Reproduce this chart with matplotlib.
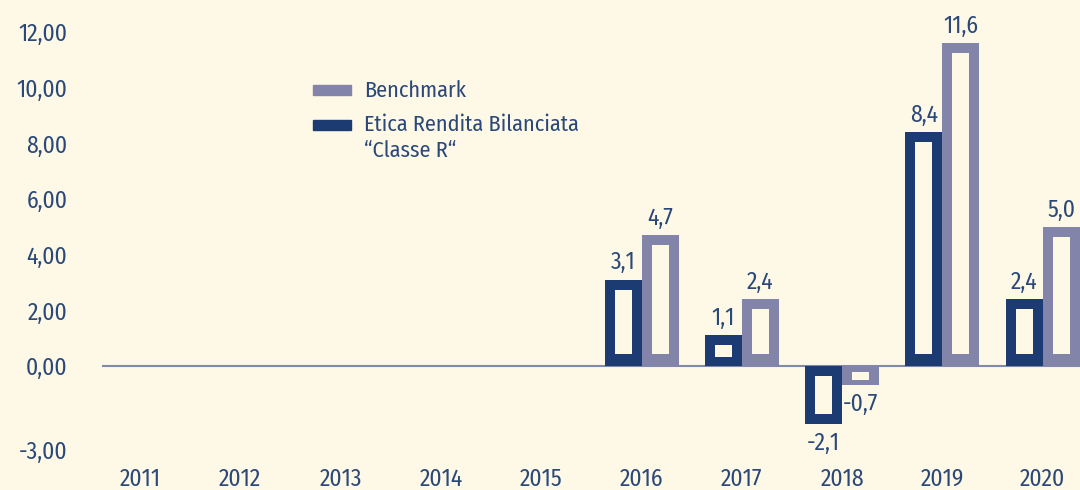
import numpy as np
import matplotlib.pyplot as plt
from matplotlib.patches import Rectangle

# dati
anni = ["2011", "2012", "2013", "2014", "2015", "2016", "2017", "2018", "2019", "2020"]
fondo = [np.nan, np.nan, np.nan, np.nan, np.nan, 3.1, 1.1, -2.1, 8.4, 2.4]
benchmark = [np.nan, np.nan, np.nan, np.nan, np.nan, 4.7, 2.4, -0.7, 11.6, 5.0]
y_ticks = [-3, 0, 2, 4, 6, 8, 10, 12]
nome_fondo = "Etica Rendita Bilanciata\n\u201cClasse R\u201c"
nome_bench = "Benchmark"

# stile
BG = "#FEF8E7"
C_FONDO = "#1B3B72"
C_BENCH = "#8284A9"
C_TEXT = "#2A4878"
C_LINE = "#7F8BA6"
FONT = ["Fira Sans Condensed", "Asap Condensed", "DejaVu Sans"]
plt.rcParams["font.family"] = FONT

W, H = 1080, 490
fig = plt.figure(figsize=(W / 100, H / 100), dpi=100, facecolor=BG)
ax = fig.add_axes([102 / W, 35 / H, (W - 102) / W, 455 / H])
ax.set_facecolor(BG)

px_x = 100.3   # pixel per unita' x
px_y = 27.83   # pixel per unita' y
ax.set_xlim(-38 / px_x, (W - 140) / px_x)
ax.set_ylim(-(455 - 366) / px_y, 366 / px_y)

x = np.arange(len(anni))
w = 37 / px_x
ins_x = 10 / px_x


def barre(valori, sinistra, colore):
    ax.bar(sinistra, valori, width=w, align="edge", color=colore, zorder=2)
    for xi, v in zip(sinistra, valori):
        if np.isnan(v):
            continue
        t = min(10 / px_y, abs(v) * 0.3)
        if v > 0:
            b, top = min(12 / px_y, abs(v) * 0.3), v - t
        else:
            b, top = v + t, -t
        ax.bar(xi + ins_x, top - b, bottom=b, width=w - 2 * ins_x,
               align="edge", color=BG, zorder=3)
        etichetta = f"{v:.1f}".replace(".", ",")
        ax.annotate(etichetta, (xi + w / 2, v), xytext=(0, 4 if v > 0 else -5),
                    textcoords="offset points", ha="center",
                    va="bottom" if v > 0 else "top", fontsize=17, color=C_TEXT)


barre(fondo, x - w, C_FONDO)
barre(benchmark, x, C_BENCH)

ax.axhline(0, color=C_LINE, lw=1.5, zorder=1)

ax.set_yticks(y_ticks)
ax.set_yticklabels([f"{v:.2f}".replace(".", ",") for v in y_ticks])
ax.set_xticks(x)
ax.set_xticklabels(anni)
ax.tick_params(axis="y", length=0, pad=25, labelsize=17, labelcolor=C_TEXT)
ax.tick_params(axis="x", length=0, pad=9, labelsize=17, labelcolor=C_TEXT)
for s in ax.spines.values():
    s.set_visible(False)

# legenda
def fx(px):
    return px / W


def fy(py):
    return 1 - py / H


fig.patches.append(Rectangle((fx(313), fy(95)), 38 / W, 10 / H, color=C_BENCH,
                             transform=fig.transFigure, figure=fig))
fig.patches.append(Rectangle((fx(313), fy(130)), 38 / W, 10 / H, color=C_FONDO,
                             transform=fig.transFigure, figure=fig))
fig.text(fx(364), fy(97), nome_bench, fontsize=16, color=C_TEXT, va="baseline")
fig.text(fx(364), fy(131), nome_fondo.split("\n")[0], fontsize=16, color=C_TEXT, va="baseline")
fig.text(fx(364), fy(157), nome_fondo.split("\n")[1], fontsize=16, color=C_TEXT, va="baseline")

fig.savefig("out.png", dpi=100, facecolor=BG)
